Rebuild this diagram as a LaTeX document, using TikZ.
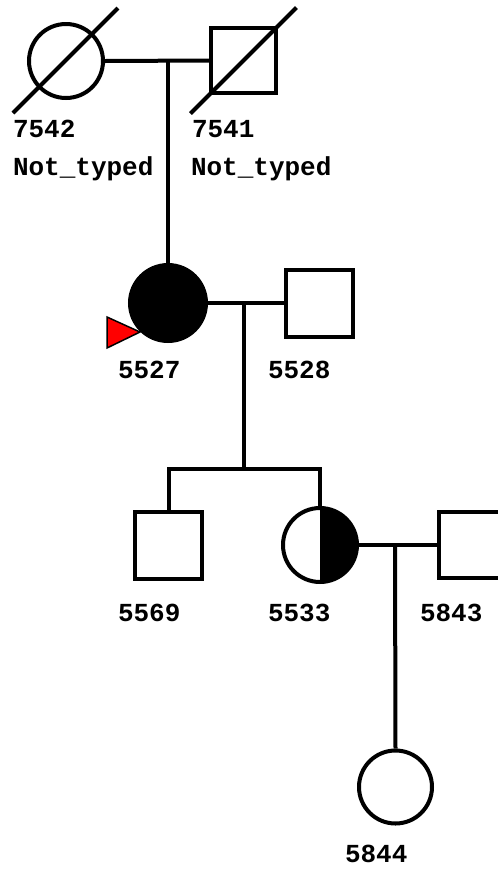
\documentclass[tikz,border=0pt]{standalone}
\usepackage{fontspec}
\setmonofont{Liberation Mono}
\usetikzlibrary{calc}
\begin{document}
\begin{tikzpicture}[x=1pt,y=-1pt,
  line width=4pt,
  fem/.style={circle,draw=black,line width=4pt,minimum size=74pt,inner sep=0pt,fill=white},
  mal/.style={rectangle,draw=black,line width=4pt,minimum size=66pt,inner sep=0pt,fill=white},
  lab/.style={anchor=base west,inner sep=0pt,font=\ttfamily\bfseries\fontsize{26}{30}\selectfont},
  conn/.style={draw=black,line width=4pt}]
\clip (0,0) rectangle (498,871);
\fill[white] (0,0) rectangle (498,871);
% generation I
\node[fem] (n7542) at (66,61) {};
\node[mal,minimum size=65pt] (n7541) at (243.5,60.5) {};
\coordinate (m1) at (168,61);
\draw[conn] (n7542.east) -- (n7541.west);
\draw[conn] ($(n7542.center)+(-53,52)$) -- ($(n7542.center)+(52,-53)$);
\draw[conn] ($(n7541.center)+(-53,53)$) -- ($(n7541.center)+(53,-53)$);
\node[lab] (l7542) at (11,137) {7542};
\node[lab] (t7542) at (11,175) {Not\_typed};
\node[lab] (l7541) at (190,137) {7541};
\node[lab] (t7541) at (189,175) {Not\_typed};
% generation II
\node[fem,fill=black,minimum size=76pt] (n5527) at (168,303) {};
\node[mal,minimum size=67pt] (n5528) at (319.5,303) {};
\draw[conn] (m1) -- (n5527.north);
\draw[conn] (n5527.east) -- (n5528.west);
\coordinate (m2) at (244,303);
\draw[fill=red,draw=black,line width=1.5pt] (107,317) -- (107,348) -- (140,332) -- cycle;
\node[lab] (l5527) at (116,378) {5527};
\node[lab] (l5528) at (266,378) {5528};
% generation III
\coordinate (sib) at (244,469);
\node[mal,minimum size=67pt] (n5569) at (168.5,545.5) {};
\node[fem,path picture={\fill[black] (path picture bounding box.north) rectangle (path picture bounding box.south east);}] (n5533) at (320,545) {};
\node[mal] (n5843) at (472,545) {};
\draw[conn] (m2) -- (sib);
\draw[conn] (n5569.north) |- (sib) -| (n5533.north);
\draw[conn] (n5533.east) -- (n5843.west);
\coordinate (m3) at (395,546);
\node[lab] (l5569) at (116,621) {5569};
\node[lab] (l5533) at (266,621) {5533};
\node[lab] (l5843) at (418,621) {5843};
% generation IV
\node[fem,minimum size=73pt] (n5844) at (395.5,787) {};
\draw[conn] (m3) -- (n5844.north);
\node[lab] (l5844) at (343,862) {5844};
\end{tikzpicture}
\end{document}
